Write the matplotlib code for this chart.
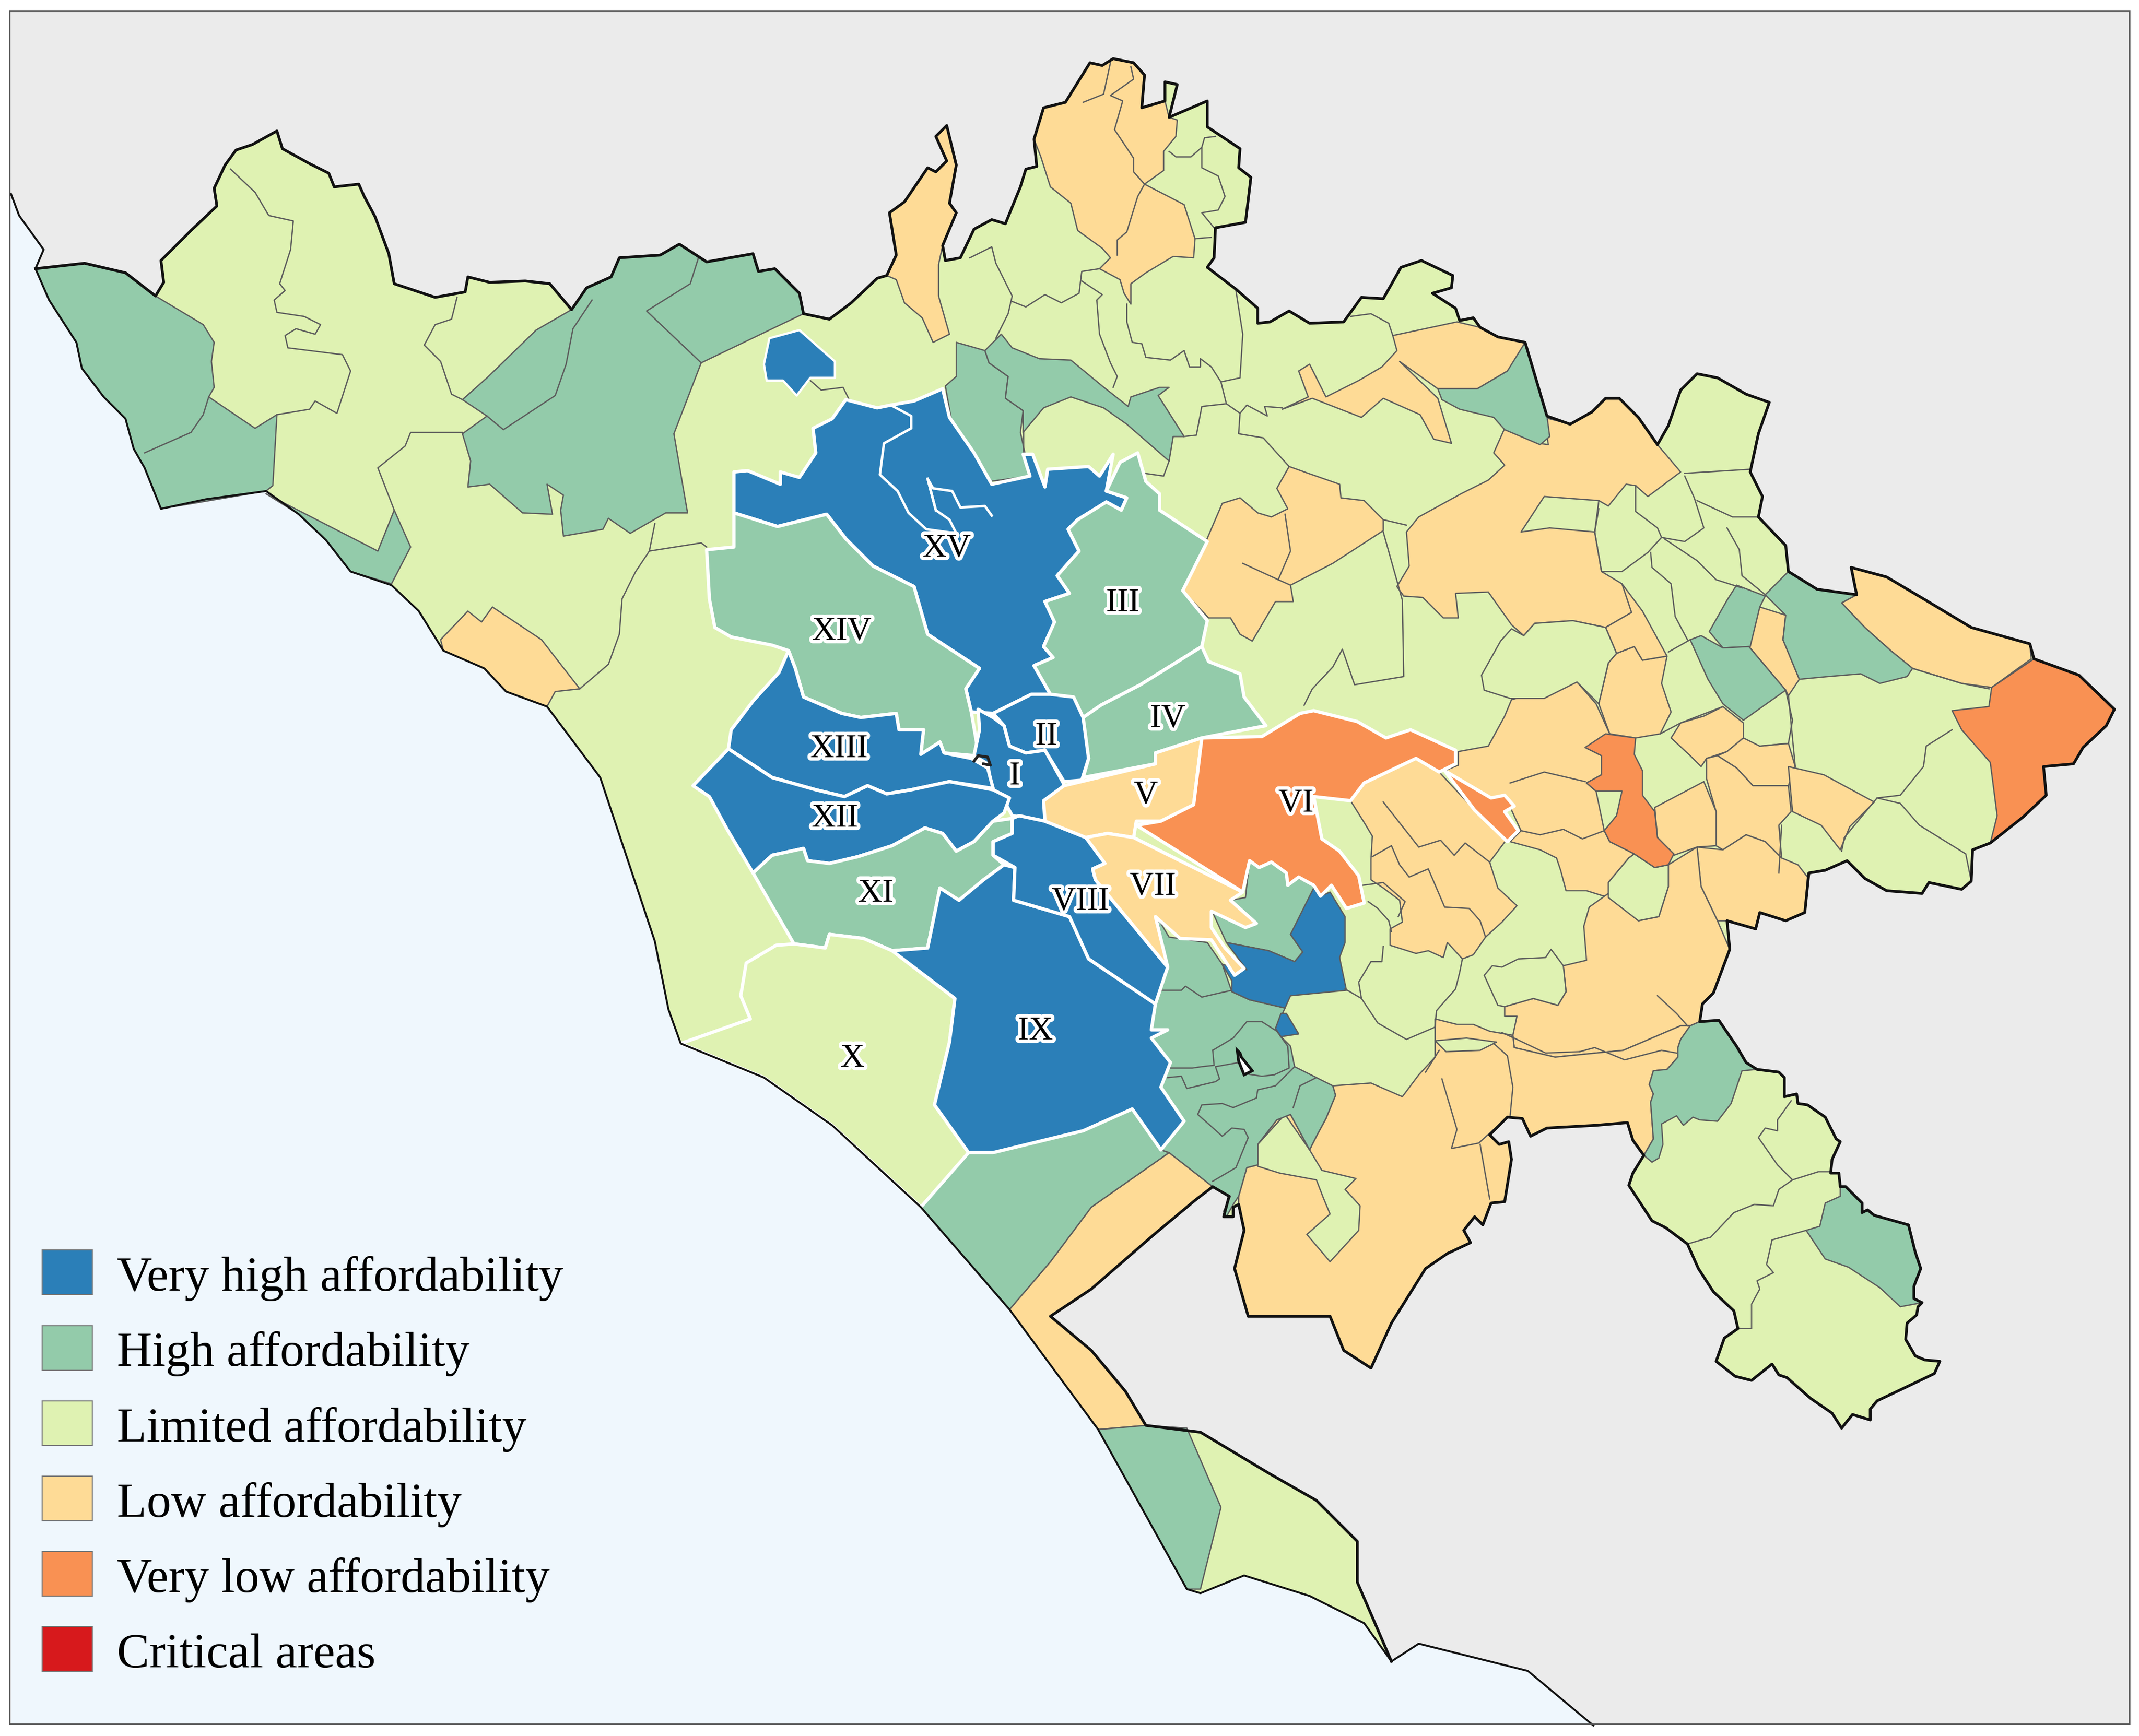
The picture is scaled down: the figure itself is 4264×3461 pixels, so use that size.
import matplotlib
matplotlib.use("Agg")
import matplotlib.pyplot as plt
import matplotlib.patheffects as pe
from matplotlib.patches import Polygon, Patch, Rectangle

plt.rcParams["font.family"] = ["Liberation Serif", "DejaVu Serif"]

W, H = 1568, 1272.7
FRAME = (7, 8, 1561, 1264)

C_VHIGH = "#2b7fb8"
C_HIGH = "#93cbaa"
C_LIM = "#dff2b2"
C_LOW = "#fedb96"
C_VLOW = "#f99153"
C_CRIT = "#d7191c"
C_SEA = "#eff7fd"
C_LAND = "#ebebeb"

legend_labels = ["Very high affordability", "High affordability", "Limited affordability",
                 "Low affordability", "Very low affordability", "Critical areas"]
legend_colors = [C_VHIGH, C_HIGH, C_LIM, C_LOW, C_VLOW, C_CRIT]

# outline of the province (image coords, y down)
land_border = [(26,197),(62,193),(92,200),(114,217),(120,207),(118,191),(140,169),(159,151),(157,138),(165,121),(173,110),(185,106),
    (203,96),(207,109),(227,120),(241,127),(245,137),(263,135),(267,144),(275,159),(285,186),(289,208),(319,218),(341,214),(343,203),
    (359,207),(385,206),(403,208),(419,227),(430,211),(448,203),(454,189),(484,187),(498,179),(518,192),(552,186),(556,199),(568,197),
    (586,215),(589,230),(608,234),(624,222),(643,204),(650,202),(657,187),(652,156),(663,148),(680,123),(686,126),(694,118),(686,100),
    (694,92),(701,121),(696,149),(701,156),(691,180),(693,191),(704,189),(714,168),(727,161),(737,164),(748,137),(752,124),(760,122),
    (758,102),(765,79),(781,75),(799,46),(808,48),(816,43),(831,46),(839,55),(837,79),(854,74),(854,60),(863,62),(857,86),(885,74),
    (885,93),(909,109),(908,123),(917,130),(913,163),(891,167),(890,189),(885,196),(906,212),(922,226),(922,237),(931,236),(945,228),
    (960,237),(985,236),(998,218),(1014,219),(1027,196),(1042,191),(1065,202),(1064,211),(1050,215),(1067,226),(1070,235),(1080,233),
    (1085,240),(1098,247),(1118,251),(1134,305),(1151,311),(1167,302),(1177,292),(1187,292),
    (1201,306),(1215,326),(1223,312),(1232,286),(1244,274),(1259,277),(1280,289),(1297,295),(1289,318),(1283,346),(1292,364),
    (1289,379),(1309,400),(1311,419),(1332,432),(1361,436),(1357,416),(1383,423),(1410,439),(1445,460),(1488,472),(1491,483),
    (1524,495),(1550,520),(1544,532),(1527,548),(1520,560),(1498,562),(1500,583),(1483,599),(1459,618),(1446,623),(1445,646),
    (1438,652),(1414,647),(1409,655),(1383,653),(1367,644),(1354,631),(1338,638),(1326,640),(1323,669),(1309,675),(1290,669),
    (1287,681),(1266,675),(1268,696),(1256,728),(1248,736),(1246,749),(1260,748),(1273,767),(1280,779),(1288,784),(1304,786),(1308,790),
    (1308,804),(1317,802),(1318,809),(1325,810),(1338,819),(1346,835),(1349,837),(1343,850),(1342,860),(1348,860),(1349,870),(1353,870),
    (1365,882),(1365,889),(1369,887),(1374,891),(1399,898),(1404,918),(1408,930),(1403,943),(1403,952),(1409,955),(1406,958),(1405,964),
    (1398,970),(1397,982),(1404,994),(1411,997),(1422,998),(1418,1007),(1395,1018),(1376,1027),(1371,1033),(1371,1041),(1358,1037),
    (1350,1047),(1343,1036),(1327,1025),(1310,1010),(1304,1008),(1299,1000),(1284,1012),(1272,1009),(1258,998),(1264,981),(1274,974),
    (1271,961),(1256,947),(1245,930),(1237,912),(1221,900),(1211,895),(1194,869),(1197,860),(1205,847),(1197,836),(1193,823),(1170,825),
    (1134,827),(1122,833),(1116,820),(1105,819),
    (1092,832),(1099,839),(1106,837),(1108,850),(1103,881),(1093,882),(1087,898),(1081,892),(1073,902),(1078,911),(1061,919),
    (1045,930),(1020,970),(1005,1003),(985,990),(975,965),(950,965),(915,965),(905,930),(912,902),(908,883),(904,885),(904,892),
    (897,892),(901,877),(889,870),(876,880),(846,905),(800,945),(770,965),(800,990),(825,1020),(840,1045),(880,1050),(930,1080),
    (965,1100),(995,1130),(995,1160),(1020,1218)]
coast = [(1020,1218),(1000,1190),(960,1170),(912,1155),(880,1168),(870,1165),(805,1048),(740,960),(675,885),(610,825),(560,790),
    (499,765),(490,740),(480,690),(440,570),(407,526),(401,518),(371,507),(355,490),(325,477),(307,448),(287,429),(257,419),(239,396),(219,377),(195,360),
    (151,366),(118,373),(106,343),(98,329),(92,307),(76,291),(60,270),(56,251),(36,220),(26,197)]
coast_nw = [(26,197),(32,183),(14,158),(8,142)]
coast_se = [(1020,1218),(1040,1205),(1120,1225),(1168,1265)]

# outer communes
high_areas = [
    [(26,197),(62,193),(92,200),(114,217),(149,238),(157,251),(155,265),(157,284),(153,291),(187,314),(203,304),(200,356),(195,360),(118,373),(106,343),(98,329),(92,307),(76,291),(60,270),(56,251),(36,220)],
    [(195,362),(277,404),(289,374),(301,401),(287,428),(257,419),(239,396),(219,377)],
    [(339,293),(357,277),(393,242),(419,227),(430,211),(448,203),(454,189),(484,187),(498,179),(518,192),(552,186),(556,199),(568,197),(586,215),(589,230),(514,266),(494,318),(504,376),(488,376),(462,391),(446,380),(442,388),(413,393),(411,374),(413,363),(401,355),(405,377),(383,376),(359,355),(343,357),(345,338),(339,318),(357,305)],
    [(701,251),(722,257),(725,266),(739,276),(737,292),(750,301),(748,317),(755,349),(725,353),(714,332),(698,311),(693,283),(701,276)],
    [(722,257),(734,245),(742,255),(762,263),(785,264),(808,283),(827,298),(829,291),(850,284),(857,284),(849,290),(868,320),(860,320),(857,338),(826,311),(809,299),(785,291),(765,299),(750,317),(750,301),(737,292),(739,276),(725,266)],
    [(675,885),(710,845),(728,845),(794,829),(830,813),(851,843),(857,845),(800,885),(770,925),(740,960)],
    [(805,1048),(840,1045),(870,1047),(895,1105),(880,1165),(870,1165)],
    [(848,672),(857,687),(885,691),(896,707),(903,727),(916,733),(942,739),(935,754),(939,760),(946,767),(949,782),(965,790),(977,796),(979,803),(972,820),(965,833),(960,843),(946,817),(936,821),(922,839),(922,854),(914,856),(908,877),(904,883),(899,892),(897,888),(902,877),(889,870),(857,845),(851,843),(868,822),(851,797),(858,779),(844,761),(856,755),(844,755),(847,736),(856,709)],
    [(1054,285),(1083,285),(1105,272),(1118,251),(1134,305),(1136,320),(1129,326),(1103,315),(1095,306),(1070,300),(1057,293)],
    [(1294,436),(1311,419),(1332,432),(1361,436),(1350,442),(1367,460),(1386,477),(1402,490),(1398,496),(1378,501),(1364,494),(1340,496),(1319,498),(1307,469),(1309,451)],
    [(1273,429),(1294,437),(1290,445),(1283,474),(1263,475),(1253,463),(1266,440)],
    [(1239,469),(1247,466),(1263,475),(1282,474),(1309,506),(1278,528),(1263,516),(1252,498)],
    [(1239,752),(1246,749),(1260,748),(1273,767),(1280,779),(1288,784),(1277,785),(1269,809),(1259,822),(1246,821),(1241,819),(1234,825),(1229,818),(1218,824),(1219,839),(1216,849),(1211,852),(1205,847),(1212,835),(1210,808),(1212,802),(1209,795),(1212,785),(1222,784),(1230,775),(1230,768),(1232,762)],
    [(1349,870),(1353,870),(1365,882),(1365,889),(1369,887),(1374,891),(1399,898),(1404,918),(1408,930),(1403,943),(1403,952),(1409,955),(1393,958),(1378,944),(1355,929),(1338,923),(1324,902),(1334,899),(1338,882),(1349,877)],
    [(889,669),(902,660),(913,658),(916,631),(932,632),(943,640),(963,649),(965,655),(946,685),(955,698),(949,705),(930,697),(899,691)],
]
very_high_areas = [
    [(564,248),(586,242),(612,265),(612,277),(594,277),(584,290),(574,279),(562,279),(560,267)],
    [(964,649),(968,657),(975,654),(986,672),(986,691),(982,702),(987,726),(946,730),(942,739),(916,733),(903,727),(903,719),(896,707),(914,711),(899,691),(930,697),(949,705),(955,698),(946,685)],
    [(935,754),(939,743),(943,743),(952,758),(939,760)],
]
low_areas = [
    [(323,469),(343,448),(353,456),(361,445),(397,469),(425,505),(407,507),(401,518),(371,507),(355,490),(325,477)],
    [(857,845),(889,870),(876,880),(846,905),(800,945),(770,965),(800,990),(825,1020),(840,1045),(805,1048),(740,960),(770,925),(800,885)],
    [(763,115),(758,102),(765,79),(781,75),(799,46),(808,48),(816,43),(831,46),(839,55),(837,79),(854,74),(857,86),(863,88),(862,100),(853,111),(853,125),(839,135),(868,150),(876,175),(875,189),(860,188),(840,200),(829,208),(829,223),(824,215),(821,205),(806,197),(814,189),(808,182),(790,169),(785,149),(770,137)],
    [(650,202),(657,187),(652,156),(663,148),(680,123),(686,126),(694,118),(686,100),(694,92),(701,121),(696,149),(701,156),(691,180),(688,194),(688,217),(696,245),(684,251),(676,233),(663,222),(657,205)],
    [(884,397),(896,369),(909,365),(922,376),(932,379),(944,373),(936,358),(945,342),(959,347),(982,355),(983,365),(1000,367),(1014,381),(1014,389),(977,413),(946,429),(948,441),(935,441),(918,470),(909,465),(902,453),(886,453),(867,433),(875,410)],
    [(1021,246),(1068,236),(1085,240),(1098,247),(1118,251),(1118,258),(1105,272),(1083,285),(1054,285),(1026,265),(1054,292),(1064,325),(1051,322),(1041,304),(1014,292),(998,306),(962,292),(940,300),(959,291),(952,272),(960,267),(972,291),(996,279),(1013,269),(1024,257)],
    [(1103,314),(1128,325),(1135,326),(1132,306),(1151,311),(1167,302),(1177,292),(1187,292),(1201,306),(1215,326),(1232,346),(1208,364),(1199,356),(1192,355),(1179,371),(1172,367),(1169,390),(1174,419),(1189,428),(1195,440),(1196,449),(1177,460),(1153,455),(1125,457),(1117,466),(1108,458),(1091,434),(1067,435),(1069,453),(1058,453),(1043,438),(1029,437),(1024,430),(1033,415),(1031,390),(1040,379),(1071,362),(1091,352),(1103,341),(1095,332)],
    [(1198,474),(1204,484),(1222,481),(1218,501),(1225,522),(1217,538),(1199,541),(1180,538),(1172,516),(1179,486),(1185,479)],
    [(1189,428),(1204,448),(1222,481),(1204,484),(1198,474),(1185,479),(1177,460),(1196,449)],
    [(1069,551),(1091,547),(1103,525),(1108,513),(1156,500),(1170,516),(1180,538),(1162,548),(1174,554),(1174,568),(1163,574),(1170,580),(1176,609),(1180,617),(1198,626),(1194,629),(1179,647),(1179,658),(1163,653),(1148,653),(1144,638),(1141,629),(1129,623),(1107,617),(1115,609),(1103,583),(1093,585),(1067,571),(1059,565),(1069,561)],
    [(990,587),(1000,574),(1038,556),(1055,566),(1081,594),(1104,616),(1092,632),(1098,651),(1112,664),(1101,676),(1089,687),(1080,700),(1072,703),(1061,691),(1058,702),(1047,697),(1038,699),(1019,693),(1019,681),(1028,676),(1026,660),(1014,651),(1005,645),(1005,630),(1006,613),(1000,603)],
    [(1263,518),(1278,530),(1278,541),(1266,551),(1251,556),(1247,562),(1239,554),(1225,541),(1232,530),(1249,525)],
    [(1278,541),(1290,547),(1311,545),(1316,562),(1311,576),(1285,576),(1273,563),(1259,554),(1266,551)],
    [(1251,556),(1259,554),(1273,563),(1285,576),(1311,576),(1313,595),(1304,605),(1306,629),(1294,617),(1280,612),(1263,623),(1258,620),(1258,595),(1251,571)],
    [(1213,592),(1249,573),(1258,595),(1258,620),(1244,621),(1227,627),(1215,614)],
    [(1311,562),(1337,568),(1374,588),(1356,606),(1349,623),(1335,605),(1314,595)],
    [(1244,621),(1263,623),(1280,612),(1294,617),(1306,629),(1318,634),(1325,643),(1323,669),(1309,675),(1290,669),(1287,681),(1266,675),(1259,675),(1247,650)],
    [(1350,442),(1361,436),(1357,416),(1383,423),(1410,439),(1445,460),(1488,472),(1489,483),(1460,504),(1438,501),(1402,490),(1386,477),(1367,460)],
    [(1290,445),(1309,451),(1307,469),(1319,498),(1311,510),(1309,506),(1282,474),(1287,452)],
    [(1163,704),(1161,679),(1165,665),(1179,655),(1201,675),(1216,672),(1223,650),(1223,634),(1244,621),(1247,650),(1259,675),(1268,696),(1256,728),(1248,736),(1246,749),(1239,752),(1232,752),(1190,770),(1140,775),(1110,768),(1109,759),(1112,745),(1103,745),(1103,738),(1124,732),(1142,737),(1148,727),(1146,708)],
    [(977,796),(1005,794),(1028,804),(1040,788),(1052,775),(1052,747),(1068,751),(1080,751),(1092,756),(1109,759),(1110,768),(1140,775),(1190,770),(1232,752),(1239,752),(1232,762),(1230,768),(1230,775),(1222,784),(1212,785),(1209,795),(1212,802),(1210,808),(1212,835),(1205,847),(1197,836),(1193,823),(1170,825),(1134,827),(1122,833),(1116,820),(1105,819),(1092,832),(1099,839),(1106,837),(1108,850),(1103,881),(1093,882),(1087,898),(1081,892),(1073,902),(1078,911),(1061,919),(1045,930),(1020,970),(1005,1003),(985,990),(975,965),(950,965),(915,965),(905,930),(912,902),(908,883),(908,877),(914,856),(922,854),(922,839),(936,821),(946,817),(960,843),(965,833),(972,820),(979,803)],
]
limited_over_low = [
    [(942,817),(960,843),(969,858),(994,864),(986,872),(997,884),(996,902),(975,925),(958,905),(975,890),(970,878),(965,865),(938,860),(922,855),(922,839)],
    [(1052,763),(1075,761),(1097,764),(1085,770),(1060,771)],
    [(1115,390),(1132,364),(1172,367),(1169,390),(1136,387)],
    [(1108,461),(1117,466),(1125,457),(1153,455),(1177,460),(1185,479),(1179,486),(1172,516),(1156,500),(1132,512),(1107,512),(1088,506),(1086,495),(1100,470)],
    [(1088,715),(1094,708),(1101,709),(1113,703),(1133,702),(1137,696),(1146,708),(1148,727),(1142,737),(1124,732),(1103,738),(1098,737)],
    [(1194,629),(1198,626),(1213,636),(1223,634),(1223,650),(1216,672),(1201,675),(1179,658),(1179,647)],
]
very_low_areas = [
    [(1162,548),(1177,538),(1199,541),(1198,553),(1204,565),(1204,583),(1213,595),(1215,614),(1227,626),(1223,634),(1213,636),(1198,626),(1180,617),(1176,609),(1185,598),(1189,580),(1170,580),(1163,574),(1174,568),(1174,554)],
    [(1491,483),(1460,504),(1458,518),(1431,521),(1438,535),(1459,559),(1464,598),(1459,618),(1483,599),(1500,583),(1498,562),(1520,560),(1527,548),(1544,532),(1550,520),(1524,495)],
]

# Rome municipi, white borders
mun_xv = [(538,346),(548,345),(572,355),(572,346),(586,350),(598,332),(596,314),(610,307),(620,293),(643,299),(653,297),(670,294),(691,285),(696,306),(714,332),(727,355),(755,349),(750,333),(757,333),(766,357),(768,344),(798,342),(806,349),(816,333),(811,360),(826,365),(822,374),(811,368),(790,381),(783,388),(791,404),(775,422),(784,435),(766,441),(773,456),(765,474),(772,482),(758,488),(770,509),(756,509),(728,523),(712,522),(708,505),(718,490),(680,465),(670,430),(640,415),(620,395),(606,377),(570,386),(538,376)]
mun_xv_inner = [(653,297),(668,305),(668,314),(648,325),(645,348),(658,360),(666,376),(679,388),(701,391)]
mun_xv_inner2 = [(686,374),(680,351),(684,358),(698,360),(704,372),(722,371),(727,378)]
mun_xv_inner3 = [(680,351),(686,374),(696,381),(701,391)]
mun_xiv = [(538,376),(570,386),(606,377),(620,395),(640,415),(670,430),(680,465),(718,490),(708,505),(712,522),(716,545),(714,554),(692,552),(689,544),(675,553),(677,535),(659,535),(657,523),(631,526),(617,523),(589,511),(583,490),(578,477),(566,473),(536,467),(524,460),(520,439),(518,403),(538,401)]
mun_iii = [(821,339),(834,332),(840,353),(850,362),(850,374),(885,397),(867,433),(885,455),(881,474),(836,502),(807,517),(794,526),(770,509),(758,488),(772,482),(765,474),(773,456),(766,441),(784,435),(775,422),(791,404),(783,388),(790,381),(811,368),(822,374),(826,365),(811,360)]
mun_iv = [(881,474),(886,485),(909,494),(912,511),(928,532),(881,541),(847,552),(847,560),(794,570),(798,556),(793,529),(794,526),(807,517),(836,502)]
mun_ii = [(728,523),(756,509),(770,509),(787,511),(794,526),(798,556),(793,572),(780,573),(766,550),(752,552),(740,547),(736,532)]
mun_i = [(717,520),(728,526),(736,532),(740,547),(752,552),(766,550),(780,575),(766,602),(742,598),(736,587),(728,584),(724,560),(714,554),(718,535)]
mun_xiii = [(578,477),(583,490),(589,511),(617,523),(631,526),(657,523),(659,535),(677,535),(675,553),(689,544),(692,552),(712,556),(724,563),(728,578),(696,573),(668,579),(650,582),(636,576),(619,584),(598,579),(566,570),(534,549),(536,535),(552,514),(571,493)]
mun_xii = [(534,549),(566,570),(598,579),(619,584),(636,576),(650,582),(668,579),(696,573),(728,579),(740,585),(736,596),(728,602),(714,617),(701,624),(691,611),(678,607),(654,620),(629,628),(608,633),(592,631),(589,622),(566,627),(552,640),(533,608),(520,584),(508,576)]
mun_xi = [(552,640),(566,627),(589,622),(592,631),(608,633),(629,628),(654,620),(678,607),(691,611),(701,624),(714,617),(728,602),(742,600),(742,611),(728,617),(728,627),(736,634),(721,645),(703,660),(689,651),(680,695),(654,697),(633,688),(608,685),(605,695),(582,692)]
mun_x = [(582,692),(605,695),(608,685),(633,688),(654,697),(700,732),(696,764),(685,810),(710,845),(675,885),(610,825),(560,790),(499,765),(550,747),(543,730),(547,706),(569,693)]
mun_ix = [(654,697),(680,695),(689,651),(703,660),(721,645),(736,634),(744,636),(743,660),(784,672),(798,703),(847,736),(844,755),(856,755),(844,761),(858,779),(851,797),(868,822),(851,843),(830,813),(794,829),(728,845),(710,845),(685,810),(696,764),(700,732)]
mun_viii = [(742,600),(747,598),(766,602),(796,614),(810,633),(801,637),(803,645),(856,709),(847,736),(798,703),(784,672),(743,660),(744,636),(728,627),(728,617),(742,611)]
mun_v = [(780,576),(847,560),(847,552),(881,541),(875,590),(851,602),(833,602),(831,614),(812,611),(796,614),(766,602),(765,587)]
mun_vi = [(881,541),(925,540),(953,523),(963,521),(995,529),(1016,541),(1034,535),(1067,550),(1067,560),(1055,566),(1038,556),(1000,574),(990,587),(963,584),(969,615),(982,624),(996,642),(1000,662),(987,666),(976,649),(968,657),(963,649),(952,643),(944,649),(943,640),(932,632),(923,636),(916,631),(911,654),(833,605),(851,602),(875,590)]
mun_vi_strip = [(1059,565),(1093,585),(1103,583),(1110,591),(1103,595),(1113,609),(1105,617),(1081,594)]
mun_vii = [(803,645),(801,637),(810,633),(796,614),(812,611),(831,614),(911,654),(902,660),(921,677),(913,680),(888,668),(888,680),(898,695),(912,710),(905,715),(888,689),(865,688),(847,672),(856,709)]

municipi_fill = [(mun_xv, C_VHIGH), (mun_xiv, C_HIGH), (mun_iii, C_HIGH), (mun_iv, C_HIGH), (mun_ii, C_VHIGH), (mun_i, C_VHIGH),
                 (mun_xiii, C_VHIGH), (mun_xii, C_VHIGH), (mun_xi, C_HIGH), (mun_x, C_LIM), (mun_ix, C_VHIGH), (mun_viii, C_VHIGH),
                 (mun_v, C_LOW), (mun_vii, C_LOW), (mun_vi, C_VLOW), (mun_vi_strip, C_VLOW)]

municipi_names = ["XV", "III", "XIV", "IV", "II", "XIII", "I", "V", "VI", "XII", "XI", "VII", "VIII", "IX", "X"]
name_x = [694, 823, 617, 856, 767, 615, 744, 840, 950, 612, 642, 845, 792, 759, 625]
name_y = [402, 442, 463, 527, 540, 549, 569, 583, 589, 600, 655, 650, 661, 756, 776]

# thin commune borders inside the big fills
borders = [
    [(169,124),(187,141),(197,158),(215,162),(213,183),(205,208),(209,213),(201,220),(203,229),(223,232),(235,238),(231,245),(217,241),(209,246),(211,255),(251,260),(257,272),(247,303),(231,294),(227,300),(203,304)],
    [(153,291),(149,304),(140,317),(106,332)],
    [(512,189),(506,208),(474,228),(514,266)],
    [(434,220),(420,241),(415,267),(407,290),(369,315),(357,305)],
    [(335,218),(331,234),(319,238),(311,253),(323,265),(331,289),(339,293)],
    [(480,384),(476,404),(466,419),(456,439),(454,465),(446,487),(425,505)],
    [(476,404),(514,398),(518,401)],
    [(339,317),(301,317),(297,327),(277,343),(289,374)],
    [(594,279),(602,286),(618,284),(622,292)],
    [(711,189),(727,181),(730,193),(742,217),(739,230),(730,248)],
    [(742,221),(752,225),(766,216),(778,222),(791,215),(793,199),(806,197)],
    [(793,206),(808,216),(804,220),(806,245),(814,266),(819,276),(816,284)],
    [(826,223),(826,236),(830,251),(837,252),(840,262),(858,264),(868,257),(872,269),(880,269),(880,263),(888,269),(895,280),(909,277),(911,245),(906,213)],
    [(895,280),(899,296),(881,298),(877,319),(868,320)],
    [(899,296),(909,303),(908,318),(926,321),(945,342)],
    [(814,46),(809,69),(794,75)],
    [(829,49),(831,58),(814,70),(823,74),(817,95),(831,116),(831,126),(839,135),(834,144),(826,170),(819,176),(819,187)],
    [(857,111),(862,115),(873,115),(881,108),(881,123),(893,129),(898,144),(893,154),(881,156),(890,167)],
    [(881,108),(883,101),(891,100)],
    [(876,175),(888,174)],
    [(750,317),(750,332)],
    [(839,347),(853,349),(857,338)],
    [(909,303),(914,297),(929,305),(927,298),(940,299)],
    [(990,232),(1005,230),(1018,237),(1021,246)],
    [(911,413),(937,425),(946,429)],
    [(942,377),(946,404),(937,425)],
    [(1014,381),(1031,385)],
    [(956,517),(962,505),(977,489),(984,476),(993,502),(1029,496),(1028,440),(1014,390)],
    [(1172,373),(1169,390),(1174,419),(1189,419),(1208,405),(1218,394)],
    [(1199,356),(1199,375),(1215,387),(1218,394),(1235,397),(1249,387),(1242,365),(1235,349)],
    [(1235,347),(1283,344)],
    [(1244,367),(1270,379),(1289,379)],
    [(1266,387),(1275,403),(1277,422),(1294,436)],
    [(1220,395),(1244,411),(1258,425),(1277,431)],
    [(1210,405),(1211,416),(1225,428),(1228,452),(1237,469)],
    [(1223,478),(1239,469)],
    [(1263,518),(1232,530),(1217,538)],
    [(1309,506),(1314,528),(1311,545),(1290,547)],
    [(1311,510),(1316,562)],
    [(1278,530),(1278,541)],
    [(1402,490),(1438,501),(1458,505)],
    [(1431,535),(1412,547),(1410,562),(1393,583),(1376,585),(1352,614),(1350,624)],
    [(1376,585),(1393,589),(1407,605),(1441,626),(1445,646)],
    [(1306,605),(1304,640)],
    [(1313,807),(1303,821),(1303,829),(1294,827),(1289,834),(1303,854),(1314,865)],
    [(1342,859),(1333,859),(1314,865),(1304,872),(1300,884),(1286,883),(1271,889),(1254,907),(1237,912)],
    [(1324,902),(1299,909),(1295,927),(1300,933),(1288,939),(1290,945),(1284,956),(1284,974),(1274,974)],
    [(1158,771),(1169,768),(1191,777),(1218,770),(1229,772)],
    [(1215,730),(1229,743),(1237,752)],
    [(1014,694),(1013,705),(1005,705),(996,720),(998,732),(1010,750),(1031,762),(1052,753),(1053,741),(1067,725),(1070,713),(1072,703)],
    [(986,725),(998,732)],
    [(999,649),(1014,647),(1030,661),(1025,672)],
    [(1003,661),(1010,666),(1018,675),(1020,683)],
    [(1006,628),(1020,620),(1026,634),(1033,643),(1047,637),(1059,665),(1077,666),(1085,675),(1089,687)],
    [(1014,588),(1040,621),(1056,616),(1066,627),(1074,618),(1092,632)],
    [(1101,757),(1112,762),(1133,772),(1158,771)],
    [(1095,765),(1105,774),(1109,797),(1107,818)],
    [(1055,770),(1045,786)],
    [(1057,791),(1068,828),(1064,842),(1084,838),(1105,819)],
    [(1085,839),(1092,879)],
    [(1107,574),(1132,566),(1162,573)],
    [(1115,609),(1129,612),(1146,608),(1160,615),(1176,609)],
    [(851,726),(866,726),(869,723),(881,731),(894,728),(903,726)],
    [(889,770),(904,761),(914,749),(925,749),(936,756),(944,767),(945,783),(934,788),(925,789),(912,787),(908,779),(891,782),(894,791),(891,793),(870,798),(866,789),(856,790)],
    [(889,770),(890,781),(881,782),(874,783),(856,783)],
    [(949,782),(935,796),(922,799),(921,805),(904,812),(896,809),(881,810),(878,817),(896,833),(903,827),(912,828),(915,834),(906,856),(889,866)],
    [(965,790),(953,796),(948,812)],
]
lake = [(907,770),(909,772),(910,775),(918,785),(912,788),(908,778)]
tiber_bend = [(714,558),(717,554),(724,555),(726,561),(721,560)]

fig = plt.figure(figsize=(21.32, 17.305), dpi=200)
ax = fig.add_axes([0, 0, 1, 1])
ax.set_xlim(0, W)
ax.set_ylim(H, 0)
ax.axis("off")

x0, y0, x1, y1 = FRAME
ax.add_patch(Rectangle((x0, y0), x1 - x0, y1 - y0, fc=C_LAND, ec="none", zorder=0))
clip = Rectangle((x0, y0), x1 - x0, y1 - y0, transform=ax.transData)

sea = coast_nw[::-1] + coast[::-1] + coast_se[1:] + [(8, 1264)]
p = ax.add_patch(Polygon(sea, fc=C_SEA, ec="none", zorder=1))
p.set_clip_path(clip)

ax.add_patch(Polygon(land_border + coast[1:], fc=C_LIM, ec="none", zorder=2))


def draw_areas(areas, color, z=3):
    for a in areas:
        ax.add_patch(Polygon(a, fc=color, ec="#5c5c5c", lw=0.95, joinstyle="round", zorder=z))


draw_areas(low_areas, C_LOW)
draw_areas(limited_over_low, C_LIM, 3.1)
draw_areas(high_areas, C_HIGH, 3.2)
draw_areas(very_low_areas, C_VLOW, 3.3)
draw_areas(very_high_areas, C_VHIGH, 3.4)

for line in borders:
    ax.plot([q[0] for q in line], [q[1] for q in line], color="#5c5c5c", lw=0.95, solid_joinstyle="round", zorder=3.5)

for poly, color in municipi_fill:
    ax.add_patch(Polygon(poly, fc=color, ec="white", lw=2.4, joinstyle="round", zorder=4))
for line in [mun_xv_inner, mun_xv_inner2, mun_xv_inner3]:
    ax.plot([q[0] for q in line], [q[1] for q in line], color="white", lw=1.8, zorder=4.1)

# small white-edged very-high patch keeps its white rim
ax.add_patch(Polygon(very_high_areas[0], fc=C_VHIGH, ec="white", lw=1.6, joinstyle="round", zorder=4))

ax.add_patch(Polygon(lake, fc="white", ec="#111111", lw=2.0, zorder=4.5))
ax.plot([q[0] for q in tiber_bend], [q[1] for q in tiber_bend], color="#222222", lw=2.0, zorder=4.5)

ax.plot([q[0] for q in land_border], [q[1] for q in land_border], color="#111111", lw=2.0, solid_joinstyle="round", zorder=5)
for line in [coast, coast_nw, coast_se]:
    ax.plot([q[0] for q in line], [q[1] for q in line], color="#111111", lw=1.4, solid_joinstyle="round", zorder=5)

for name, nx, ny in zip(municipi_names, name_x, name_y):
    ax.text(nx, ny, name, fontsize=24, ha="center", va="center", color="black", zorder=6,
            path_effects=[pe.withStroke(linewidth=5, foreground="white")])

ax.add_patch(Rectangle((x0, y0), x1 - x0, y1 - y0, fc="none", ec="#555555", lw=1.0, zorder=7))

handles = [Patch(fc=c, ec="#777777", lw=0.8) for c in legend_colors]
leg = ax.legend(handles, legend_labels, loc="lower left", bbox_to_anchor=(31, 1229), bbox_transform=ax.transData,
                frameon=False, fontsize=35, handlelength=1.03, handleheight=1.03, handletextpad=0.5,
                labelspacing=0.53, borderpad=0, borderaxespad=0)
for t in leg.get_texts():
    t.set_y(-3)

fig.savefig("out.png", dpi=200)
